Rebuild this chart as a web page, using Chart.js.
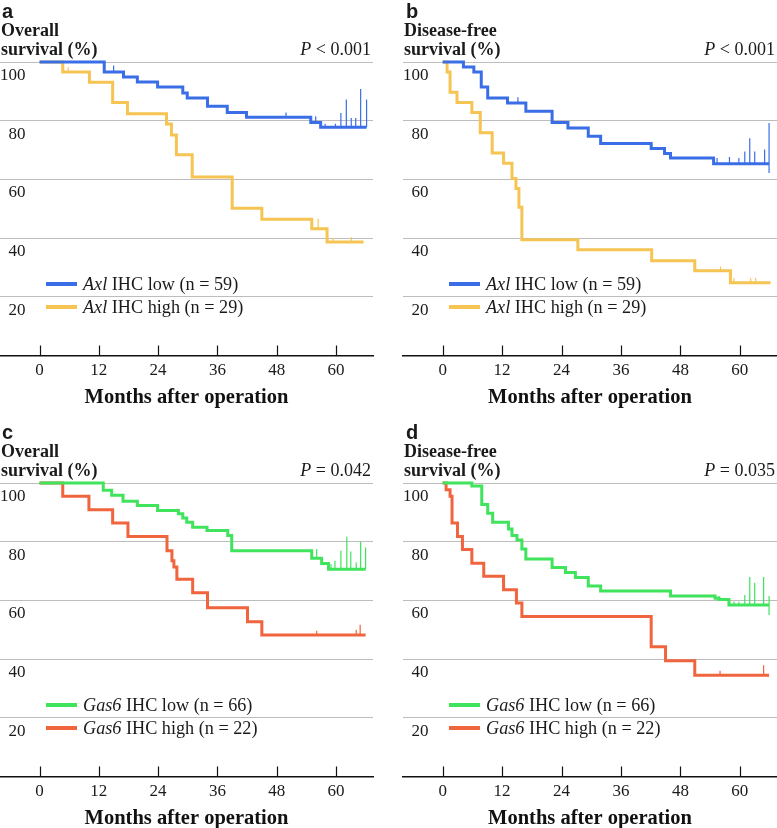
<!DOCTYPE html>
<html>
<head>
<meta charset="utf-8">
<script src="https://cdn.jsdelivr.net/npm/chart.js@4.4.0/dist/chart.umd.min.js"></script>
<style>
  html, body { margin: 0; padding: 0; background: #fff; }
  body { width: 777px; height: 828px; overflow: hidden; position: relative; color: #1a1a1a; font-family: "Liberation Serif", serif; }
  .panel { position: absolute; height: 414px; }
  .panel canvas { position: absolute; left: 0; top: 0; }
  .letter { position: absolute; font: bold 20px/20px "Liberation Sans", Arial, sans-serif; }
  .ylab { position: absolute; font: bold 18px/19.3px "Liberation Serif", serif; white-space: nowrap; }
  .pval { position: absolute; font: 18px/18px "Liberation Serif", serif; white-space: nowrap; text-align: right; }
  .legend { position: absolute; font: 18.2px/23px "Liberation Serif", serif; }
  .legend .row { display: flex; align-items: center; height: 23px; white-space: nowrap; }
  .legend .swatch { width: 31px; height: 3.5px; margin-right: 6px; }
</style>
</head>
<body>

<div class="panel" style="left:0;top:0;width:388px">
  <canvas id="chartA" width="388" height="414"></canvas>
  <div class="letter" style="left:2px;top:1px">a</div>
  <div class="ylab" style="left:1px;top:21px">Overall<br>survival (%)</div>
  <div class="pval" style="right:17px;top:40px"><i>P</i> &lt; 0.001</div>
  <div class="legend" id="legendA" style="left:46px;top:272.5px"></div>
</div>

<div class="panel" style="left:388px;top:0;width:389px">
  <canvas id="chartB" width="389" height="414"></canvas>
  <div class="letter" style="left:18px;top:1px">b</div>
  <div class="ylab" style="left:16px;top:21px">Disease-free<br>survival (%)</div>
  <div class="pval" style="right:2px;top:40px"><i>P</i> &lt; 0.001</div>
  <div class="legend" id="legendB" style="left:61px;top:272.5px"></div>
</div>

<div class="panel" style="left:0;top:421px;width:388px">
  <canvas id="chartC" width="388" height="414"></canvas>
  <div class="letter" style="left:2px;top:1px">c</div>
  <div class="ylab" style="left:1px;top:21px">Overall<br>survival (%)</div>
  <div class="pval" style="right:17px;top:40px"><i>P</i> = 0.042</div>
  <div class="legend" id="legendC" style="left:46px;top:272.5px"></div>
</div>

<div class="panel" style="left:388px;top:421px;width:389px">
  <canvas id="chartD" width="389" height="414"></canvas>
  <div class="letter" style="left:18px;top:1px">d</div>
  <div class="ylab" style="left:16px;top:21px">Disease-free<br>survival (%)</div>
  <div class="pval" style="right:2px;top:40px"><i>P</i> = 0.035</div>
  <div class="legend" id="legendD" style="left:61px;top:272.5px"></div>
</div>

<script>
// 橫軸刻度（術後月數）與縱軸刻度（存活率 %）
const monthTicks = [0, 12, 24, 36, 48, 60];
const survTicks = [0, 20, 40, 60, 80, 100];

// a: Axl 整體存活
const axlOsLowMonths = [0, 13.1, 17, 19.8, 23.9, 29, 29.9, 34, 38, 41.9, 54.9, 56.9, 66.2];
const axlOsLowSurv   = [100, 96.6, 94.9, 93.2, 91.5, 89.4, 87.7, 84.9, 82.8, 81.2, 79.4, 77.8, 77.8];
const axlOsLowCensorMonths = [15, 49.9, 55.9, 57.8, 59.9, 61, 62.1, 63.1, 64, 65, 66.2];
const axlOsLowCensorTops   = [98.8, 82.8, 81.5, 79, 79, 82.6, 87.2, 80.9, 80.9, 90.8, 87.2];
const axlOsHighMonths = [0, 4.7, 10.1, 14.8, 17.8, 25.7, 26.7, 27.7, 30.9, 39, 45, 55.1, 58.2, 65.6];
const axlOsHighSurv   = [100, 96.6, 93.1, 86.2, 82.4, 78.9, 75.1, 68.4, 60.8, 50.2, 46.4, 43.2, 38.7, 38.7];
const axlOsHighCensorMonths = [5.8, 56.4, 59.4, 63.1];
const axlOsHighCensorTops   = [98.2, 46.6, 40, 40.3];

// b: Axl 無病存活
const axlDfsLowMonths = [0, 4.2, 6.3, 7.8, 9.1, 13.1, 16.8, 22.1, 25.3, 29.4, 31.9, 42.1, 44.8, 46, 54.7, 65.9];
const axlDfsLowSurv   = [100, 98.3, 96.6, 91.5, 87.7, 86, 83.2, 79.4, 77.5, 74.7, 72.2, 70.5, 68.8, 67.3, 65.3, 65.3];
const axlDfsLowCensorMonths = [15.2, 55.4, 57.9, 59.8, 61, 62, 63, 65, 65.9];
const axlDfsLowCensorTops   = [88, 67.3, 67.6, 67.3, 69.5, 74, 69.5, 70.2, 79.2];
const axlDfsLowCensorLows   = [null, null, null, null, null, null, null, null, 62.2];
const axlDfsHighMonths = [0, 0.9, 1.5, 2.9, 5.9, 7.6, 10, 12.3, 14, 14.8, 15.4, 16, 27.3, 42.2, 50.9, 58.1, 66.2];
const axlDfsHighSurv   = [100, 96.6, 89.7, 86.2, 82.8, 75.9, 69, 65.5, 60.3, 56.9, 50.5, 39.4, 36, 32.3, 28.9, 24.8, 24.8];
const axlDfsHighCensorMonths = [56.1, 58.8, 62.2, 63.2];
const axlDfsHighCensorTops   = [30.3, 26.3, 26.3, 26.5];

// c: Gas6 整體存活
const gasOsLowMonths = [0, 12.9, 14.6, 16.9, 19.8, 23.9, 28.1, 29, 29.8, 31, 33.9, 38.1, 38.9, 55.1, 57.1, 58.5, 66];
const gasOsLowSurv   = [100, 97.5, 95.8, 93.8, 92.3, 90.6, 89.5, 88.1, 86.6, 84.9, 83.8, 82.1, 76.9, 74.4, 72.6, 70.6, 70.6];
const gasOsLowCensorMonths = [56.1, 59, 59.8, 61, 62.2, 63, 64.1, 65, 66];
const gasOsLowCensorTops   = [77.5, 72.3, 73.5, 76.9, 81.7, 76.7, 72.9, 80, 78];
const gasOsHighMonths = [0, 4.7, 10, 14.8, 17.9, 25.8, 26.8, 27.2, 27.8, 31, 34, 42.1, 45, 66];
const gasOsHighSurv   = [100, 95.5, 90.9, 86.4, 81.8, 76.9, 73.5, 71.4, 67.2, 62.6, 57.5, 52.7, 48.2, 48.2];
const gasOsHighCensorMonths = [56.1, 64.1, 64.9];
const gasOsHighCensorTops   = [49.7, 50, 51.7];

// d: Gas6 無病存活
const gasDfsLowMonths = [0, 5.9, 7.9, 9.1, 10.1, 13.3, 14, 15, 16, 16.8, 22.1, 24.8, 26.8, 29.4, 31.9, 46, 55, 55.8, 57.8, 65.9];
const gasDfsLowSurv   = [100, 99, 92.7, 89.7, 86.6, 84.3, 82.1, 80.6, 77.5, 74.1, 71.2, 69.5, 67.8, 64.9, 63.2, 61.5, 60.7, 60.3, 58.4, 58.4];
const gasDfsLowCensorMonths = [55.8, 58.8, 59.8, 61, 62, 63, 64.8, 65.9];
const gasDfsLowCensorTops   = [61.5, 59.5, 59.5, 61.8, 68, 66, 68, 61.5];
const gasDfsLowCensorLows   = [null, null, null, null, null, null, null, 55];
const gasDfsHighMonths = [0, 0.7, 1.5, 1.9, 3, 4, 5.9, 8.3, 12.3, 14.9, 16, 42.1, 45, 50.9, 65.9];
const gasDfsHighSurv   = [100, 97.7, 95.5, 86.4, 81.8, 77.3, 72.7, 68.2, 63.6, 59.1, 54.5, 44.2, 39.4, 34.5, 34.5];
const gasDfsHighCensorMonths = [56, 64.8];
const gasDfsHighCensorTops   = [36, 37.9];

const COLORS = { blue: '#3a6ee6', yellow: '#f5c452', green: '#3fe35c', red: '#f0643e' };
const SERIF = '"Liberation Serif", "Times New Roman", serif';

// 取得某月份的 KM 存活值（階梯）
function curveAt(months, surv, m) {
    let v = surv[0];
    for (let i = 0; i < months.length; i++) {
        if (months[i] <= m) v = surv[i];
    }
    return v;
}

function kmPoints(months, surv) {
    return months.map((m, i) => ({ x: m, y: surv[i] }));
}

// 設限標記：每個標記是一條短直線，中間以 null 斷開
function censorPoints(months, surv, cMonths, cTops, cLows) {
    const pts = [];
    cMonths.forEach((m, i) => {
        const low = (cLows && cLows[i] != null) ? cLows[i] : curveAt(months, surv, m);
        pts.push({ x: m, y: low }, { x: m, y: cTops[i] }, { x: m, y: null });
    });
    return pts;
}

// 在 x 軸上畫向上的刻度線
const upTicks = {
    id: 'upTicks',
    afterDraw(chart) {
        const { ctx, chartArea, scales: { x } } = chart;
        ctx.save();
        ctx.strokeStyle = '#111';
        ctx.lineWidth = 1.2;
        x.ticks.forEach(t => {
            const px = Math.round(x.getPixelForValue(t.value)) + 0.5;
            ctx.beginPath();
            ctx.moveTo(px, chartArea.bottom);
            ctx.lineTo(px, chartArea.bottom - 10);
            ctx.stroke();
        });
        ctx.restore();
    }
};

function makeChart(canvasId, groups, padLeft, padRight) {
    const datasets = [];
    groups.forEach(g => {
        datasets.push({
            data: kmPoints(g.months, g.surv),
            borderColor: g.color, borderWidth: 3, stepped: 'before',
            pointRadius: 0, clip: false, borderCapStyle: 'butt', borderJoinStyle: 'miter'
        });
        datasets.push({
            data: censorPoints(g.months, g.surv, g.cMonths, g.cTops, g.cLows),
            borderColor: g.color, borderWidth: 1.2, pointRadius: 0, clip: false, spanGaps: false
        });
    });

    return new Chart(document.getElementById(canvasId), {
        type: 'line',
        data: { datasets },
        options: {
            responsive: false,
            animation: false,
            layout: { padding: { top: 62, left: padLeft, right: padRight, bottom: 3.5 } },
            plugins: { legend: { display: false }, tooltip: { enabled: false } },
            scales: {
                x: {
                    type: 'linear', min: -8, max: 67.5,
                    grid: { display: false, drawTicks: false },
                    border: { display: true, color: '#111', width: 1.5 },
                    afterBuildTicks: s => { s.ticks = monthTicks.map(v => ({ value: v })); },
                    ticks: { font: { family: SERIF, size: 17 }, color: '#1a1a1a', padding: 5, maxRotation: 0, autoSkip: false },
                    title: {
                        display: true, text: 'Months after operation', color: '#111',
                        font: { family: SERIF, size: 20.5, weight: 'bold' }, padding: { top: 0, bottom: 0 }
                    }
                },
                y: {
                    min: 0, max: 100,
                    border: { display: false },
                    afterBuildTicks: s => { s.ticks = survTicks.map(v => ({ value: v })); },
                    grid: { drawTicks: false, lineWidth: 1, color: c => c.tick && c.tick.value === 0 ? 'rgba(0,0,0,0)' : '#bdbdbd' },
                    ticks: {
                        mirror: true, padding: 0, labelOffset: 13.5,
                        font: { family: SERIF, size: 17 }, color: '#1a1a1a',
                        callback: v => v === 0 ? '' : (v < 100 ? '\u2007' + v : String(v))
                    }
                }
            }
        },
        plugins: [upTicks]
    });
}

function makeLegend(id, groups) {
    const box = document.getElementById(id);
    groups.forEach(g => {
        const row = document.createElement('div');
        row.className = 'row';
        row.innerHTML = '<span class="swatch" style="background:' + g.color + '"></span><span><i>' + g.gene + '</i> ' + g.label + '</span>';
        box.appendChild(row);
    });
}

const panelA = [
    { gene: 'Axl', label: 'IHC low (n = 59)', color: COLORS.blue, months: axlOsLowMonths, surv: axlOsLowSurv, cMonths: axlOsLowCensorMonths, cTops: axlOsLowCensorTops },
    { gene: 'Axl', label: 'IHC high (n = 29)', color: COLORS.yellow, months: axlOsHighMonths, surv: axlOsHighSurv, cMonths: axlOsHighCensorMonths, cTops: axlOsHighCensorTops }
];
const panelB = [
    { gene: 'Axl', label: 'IHC low (n = 59)', color: COLORS.blue, months: axlDfsLowMonths, surv: axlDfsLowSurv, cMonths: axlDfsLowCensorMonths, cTops: axlDfsLowCensorTops, cLows: axlDfsLowCensorLows },
    { gene: 'Axl', label: 'IHC high (n = 29)', color: COLORS.yellow, months: axlDfsHighMonths, surv: axlDfsHighSurv, cMonths: axlDfsHighCensorMonths, cTops: axlDfsHighCensorTops }
];
const panelC = [
    { gene: 'Gas6', label: 'IHC low (n = 66)', color: COLORS.green, months: gasOsLowMonths, surv: gasOsLowSurv, cMonths: gasOsLowCensorMonths, cTops: gasOsLowCensorTops },
    { gene: 'Gas6', label: 'IHC high (n = 22)', color: COLORS.red, months: gasOsHighMonths, surv: gasOsHighSurv, cMonths: gasOsHighCensorMonths, cTops: gasOsHighCensorTops }
];
const panelD = [
    { gene: 'Gas6', label: 'IHC low (n = 66)', color: COLORS.green, months: gasDfsLowMonths, surv: gasDfsLowSurv, cMonths: gasDfsLowCensorMonths, cTops: gasDfsLowCensorTops, cLows: gasDfsLowCensorLows },
    { gene: 'Gas6', label: 'IHC high (n = 22)', color: COLORS.red, months: gasDfsHighMonths, surv: gasDfsHighSurv, cMonths: gasDfsHighCensorMonths, cTops: gasDfsHighCensorTops }
];

makeChart('chartA', panelA, 0, 15);
makeChart('chartB', panelB, 15, 0);
makeChart('chartC', panelC, 0, 15);
makeChart('chartD', panelD, 15, 0);

makeLegend('legendA', panelA);
makeLegend('legendB', panelB);
makeLegend('legendC', panelC);
makeLegend('legendD', panelD);
</script>
</body>
</html>
